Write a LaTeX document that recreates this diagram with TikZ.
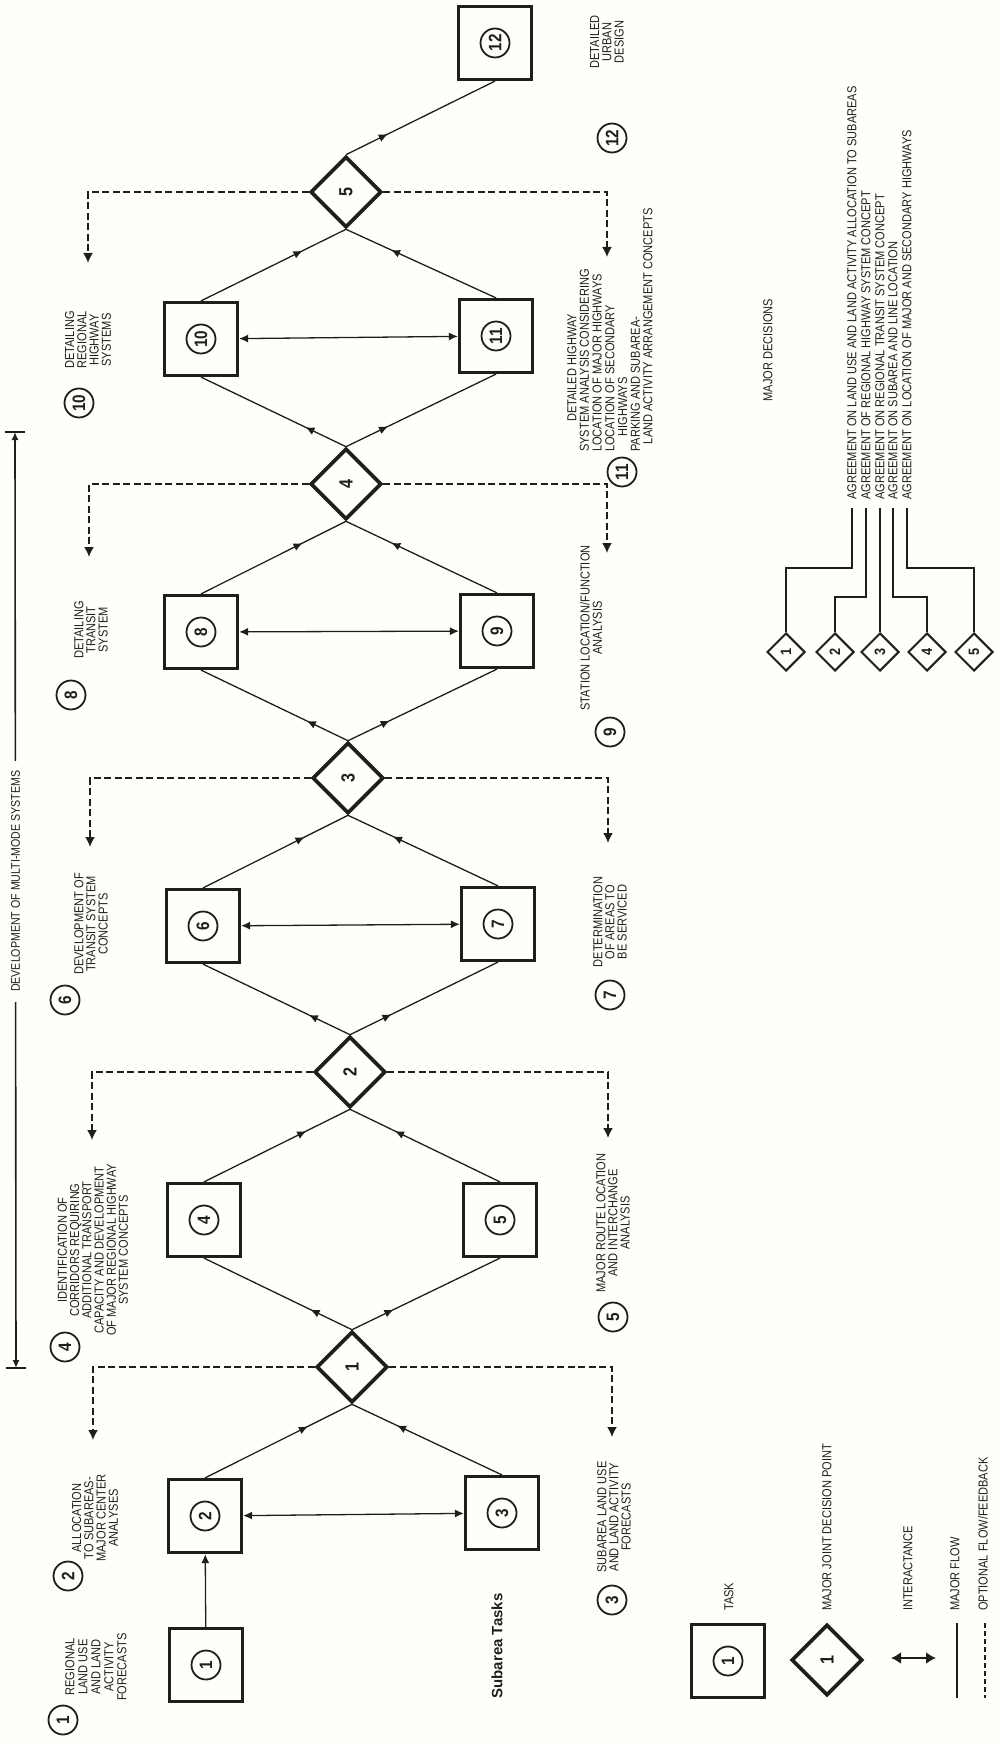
\documentclass[tikz,border=0pt]{standalone}
\usepackage{fontspec}
\setmainfont{Liberation Sans}
\newfontfamily\narrowfont[FakeStretch=0.85]{Liberation Sans}
\usetikzlibrary{arrows.meta, shapes.geometric, decorations.markings}
\definecolor{ink}{HTML}{1E1E1C}
\definecolor{paper}{HTML}{FFFFFA}
\newcommand{\lblfont}{\narrowfont\fontsize{13}{12.2}\selectfont}
\newcommand{\numfont}{\narrowfont\bfseries\fontsize{18}{18}\selectfont}
\newcommand{\decfont}{\narrowfont\bfseries\fontsize{19}{19}\selectfont}
\newcommand{\smallnumfont}{\narrowfont\bfseries\fontsize{15}{15}\selectfont}

\begin{document}
\begin{tikzpicture}[x=1pt, y=-1pt,
    task/.style={draw=ink, line width=3.2pt, minimum size=73pt, inner sep=0pt,
                 label={[tasknum]center:#1}},
    tasknum/.style={circle, draw=ink, line width=1.8pt, minimum size=29pt,
                    inner sep=0pt, rotate=90, font=\numfont, text=ink},
    decision/.style={diamond, draw=ink, line width=3.6pt, minimum size=71pt,
                     inner sep=0pt, label={[decnum]center:#1}},
    decnum/.style={rotate=90, font=\decfont, text=ink, inner sep=0pt},
    minidec/.style={diamond, draw=ink, line width=2pt, minimum size=38pt,
                    inner sep=0pt, label={[decnum, font=\smallnumfont]center:#1}},
    lbl/.style={rotate=90, align=center, font=\lblfont, text=ink, inner sep=0pt},
    flow/.style={draw=ink, line width=1.3pt},
    mid in/.style={postaction={decorate}, decoration={markings,
        mark=at position 0.7 with {\arrow{Latex[length=9pt,width=8pt]}}}},
    mid out/.style={postaction={decorate}, decoration={markings,
        mark=at position 0.28 with {\arrow{Latex[length=9pt,width=8pt]}}}},
    feedback/.style={draw=ink, line width=1.8pt, dash pattern=on 7pt off 3.5pt,
                     -{Latex[length=10pt,width=10pt]}},
    interact/.style={draw=ink, line width=1.3pt,
                     {Latex[length=9pt,width=8pt]}-{Latex[length=9pt,width=8pt]}}
  ]
    \path[fill=paper, use as bounding box] (0,0) rectangle (1000,1744);

    % span of the multi-mode work
    \coordinate (sTop) at (15,432);
    \coordinate (sBot) at (16,1368);
    \draw[ink, line width=1.6pt, {Latex[length=8pt,width=7pt]}-{Latex[length=8pt,width=7pt]}]
      (sTop) -- node[lbl, pos=0.48, fill=paper, inner xsep=10pt,
                     font=\narrowfont\fontsize{12.5}{13}\selectfont] (span)
                {DEVELOPMENT OF MULTI-MODE SYSTEMS} (sBot);
    \draw[ink, line width=1.6pt] ([xshift=-10pt]sTop) -- ([xshift=10pt]sTop);
    \draw[ink, line width=1.6pt] ([xshift=-10pt]sBot) -- ([xshift=10pt]sBot);

    % tasks, upper row
    \node[task=10] (t10) at (201,339) {};
    \node[task=8] (t8) at (201,632) {};
    \node[task=6] (t6) at (203,926) {};
    \node[task=4] (t4) at (204,1220) {};
    \node[task=2] (t2) at (205,1516) {};
    \node[task=1] (t1) at (206,1665) {};
    % tasks, lower row
    \node[task=12] (t12) at (495,43) {};
    \node[task=11] (t11) at (496,336) {};
    \node[task=9] (t9) at (497,631) {};
    \node[task=7] (t7) at (498,924) {};
    \node[task=5] (t5) at (500,1220) {};
    \node[task=3] (t3) at (502,1513) {};

    % joint decision points
    \node[decision=5] (d5) at (346,192) {};
    \node[decision=4] (d4) at (346,484) {};
    \node[decision=3] (d3) at (348,778) {};
    \node[decision=2] (d2) at (350,1072) {};
    \node[decision=1] (d1) at (352,1367) {};

    % major flow
    \draw[flow, -{Latex[length=9pt,width=8pt]}] (t1) -- (t2);
    \draw[flow, mid in] (t2.north) -- (d1.south);
    \draw[flow, mid in] (t3.north) -- (d1.south);
    \draw[flow, mid out] (d1.north) -- (t4.south);
    \draw[flow, mid out] (d1.north) -- (t5.south);
    \draw[flow, mid in] (t4.north) -- (d2.south);
    \draw[flow, mid in] (t5.north) -- (d2.south);
    \draw[flow, mid out] (d2.north) -- (t6.south);
    \draw[flow, mid out] (d2.north) -- (t7.south);
    \draw[flow, mid in] (t6.north) -- (d3.south);
    \draw[flow, mid in] (t7.north) -- (d3.south);
    \draw[flow, mid out] (d3.north) -- (t8.south);
    \draw[flow, mid out] (d3.north) -- (t9.south);
    \draw[flow, mid in] (t8.north) -- (d4.south);
    \draw[flow, mid in] (t9.north) -- (d4.south);
    \draw[flow, mid out] (d4.north) -- (t10.south);
    \draw[flow, mid out] (d4.north) -- (t11.south);
    \draw[flow, mid in] (t10.north) -- (d5.south);
    \draw[flow, mid in] (t11.north) -- (d5.south);
    \draw[flow, mid out] (d5.north) -- (t12.south);

    % interactance
    \draw[interact] (t2) -- (t3);
    \draw[interact] (t6) -- (t7);
    \draw[interact] (t8) -- (t9);
    \draw[interact] (t10) -- (t11);

    % optional flow / feedback
    \coordinate (f1l) at (93,1440);  \coordinate (f1r) at (612,1437);
    \coordinate (f2l) at (92,1140);  \coordinate (f2r) at (608,1138);
    \coordinate (f3l) at (90,847);   \coordinate (f3r) at (608,843);
    \coordinate (f4l) at (89,557);   \coordinate (f4r) at (607,553);
    \coordinate (f5l) at (88,263);   \coordinate (f5r) at (607,257);
    \draw[feedback] (d1.west) -| (f1l);
    \draw[feedback] (d1.east) -| (f1r);
    \draw[feedback] (d2.west) -| (f2l);
    \draw[feedback] (d2.east) -| (f2r);
    \draw[feedback] (d3.west) -| (f3l);
    \draw[feedback] (d3.east) -| (f3r);
    \draw[feedback] (d4.west) -| (f4l);
    \draw[feedback] (d4.east) -| (f4r);
    \draw[feedback] (d5.west) -| (f5l);
    \draw[feedback] (d5.east) -| (f5r);

    % task notes, upper row
    \node[tasknum] (n10) at (79,403) {10};
    \node[lbl] (l10) at (88,340) {DETAILING\\REGIONAL\\HIGHWAY\\SYSTEMS};
    \node[tasknum] (n8) at (71,695) {8};
    \node[lbl] (l8) at (91,630) {DETAILING\\TRANSIT\\SYSTEM};
    \node[tasknum] (n6) at (65,1000) {6};
    \node[lbl] (l6) at (91,924) {DEVELOPMENT OF\\TRANSIT SYSTEM\\CONCEPTS};
    \node[tasknum] (n4) at (65,1347) {4};
    \node[lbl] (l4) at (93,1250) {IDENTIFICATION OF\\CORRIDORS REQUIRING\\ADDITIONAL TRANSPORT\\CAPACITY AND DEVELOPMENT\\OF MAJOR REGIONAL HIGHWAY\\SYSTEM CONCEPTS};
    \node[tasknum] (n2) at (68,1576) {2};
    \node[lbl] (l2) at (95,1518) {ALLOCATION\\TO SUBAREAS-\\MAJOR CENTER\\ANALYSES};
    \node[tasknum] (n1) at (63,1720) {1};
    \node[lbl, font=\narrowfont\fontsize{13}{13}\selectfont] (l1) at (96,1667)
      {REGIONAL\\LAND USE\\AND LAND\\ACTIVITY\\FORECASTS};

    % task notes, lower row
    \node[lbl] (l12) at (607,42) {DETAILED\\URBAN\\DESIGN};
    \node[tasknum] (n12) at (612,138) {12};
    \node[tasknum] (n11) at (622,472) {11};
    \node[lbl, align=left, anchor=north west, font=\narrowfont\fontsize{13}{12.7}\selectfont]
      (l11) at (567,452) {\hspace*{2.3em}DETAILED HIGHWAY\\SYSTEM ANALYSIS CONSIDERING\\LOCATION OF MAJOR HIGHWAYS\\LOCATION OF SECONDARY\\\hspace*{1.2em}HIGHWAYS\\PARKING AND SUBAREA-\\\hspace*{0.6em}LAND ACTIVITY ARRANGEMENT CONCEPTS};
    \node[lbl] (l9) at (591,628) {STATION LOCATION/FUNCTION\\ANALYSIS};
    \node[tasknum] (n9) at (610,732) {9};
    \node[lbl] (l7) at (610,922) {DETERMINATION\\OF AREAS TO\\BE SERVICED};
    \node[tasknum] (n7) at (610,995) {7};
    \node[lbl] (l5) at (613,1223) {MAJOR ROUTE LOCATION\\AND INTERCHANGE\\ANALYSIS};
    \node[tasknum] (n5) at (613,1317) {5};
    \node[lbl] (l3) at (614,1517) {SUBAREA LAND USE\\AND LAND ACTIVITY\\FORECASTS};
    \node[tasknum] (n3) at (612,1600) {3};

    \node[rotate=90, font=\bfseries\fontsize{15}{15}\selectfont, text=ink, inner sep=0pt]
      (subt) at (497,1646) {Subarea Tasks};

    % major decisions
    \node[lbl] (mdTitle) at (768,350) {MAJOR DECISIONS};
    \node[minidec=1] (m1) at (786,652) {};
    \node[minidec=2] (m2) at (835,652) {};
    \node[minidec=3] (m3) at (880,652) {};
    \node[minidec=4] (m4) at (927,652) {};
    \node[minidec=5] (m5) at (974,652) {};
    \node[lbl, anchor=west] (a1) at (852,500) {AGREEMENT ON LAND USE AND LAND ACTIVITY ALLOCATION TO SUBAREAS};
    \node[lbl, anchor=west] (a2) at (866,500) {AGREEMENT OF REGIONAL HIGHWAY SYSTEM CONCEPT};
    \node[lbl, anchor=west] (a3) at (880,500) {AGREEMENT ON REGIONAL TRANSIT SYSTEM CONCEPT};
    \node[lbl, anchor=west] (a4) at (893,500) {AGREEMENT ON SUBAREA AND LINE LOCATION};
    \node[lbl, anchor=west] (a5) at (907,500) {AGREEMENT ON LOCATION OF MAJOR AND SECONDARY HIGHWAYS};
    \draw[flow] (m1.north) -- ++(0,-64) -| ([yshift=-8pt]a1.west);
    \draw[flow] (m2.north) -- ++(0,-35) -| ([yshift=-8pt]a2.west);
    \draw[flow] (m3.north) -- ([yshift=-8pt]a3.west);
    \draw[flow] (m4.north) -- ++(0,-35) -| ([yshift=-8pt]a4.west);
    \draw[flow] (m5.north) -- ++(0,-64) -| ([yshift=-8pt]a5.west);

    % legend
    \node[task=1] (lgTask) at (728,1661) {};
    \node[lbl, anchor=west] (lgTaskTxt) at (729,1611) {TASK};
    \node[decision=1] (lgDec) at (827,1660) {};
    \node[lbl, anchor=west] (lgDecTxt) at (827,1611) {MAJOR JOINT DECISION POINT};
    \coordinate (ia) at (891,1658);
    \coordinate (ib) at (936,1658);
    \draw[ink, line width=2.6pt, {Latex[length=10pt,width=12pt]}-{Latex[length=10pt,width=12pt]}] (ia) -- (ib);
    \node[lbl, anchor=west] (lgIntTxt) at (908,1611) {INTERACTANCE};
    \coordinate (mfa) at (957,1623);
    \coordinate (mfb) at (957,1698);
    \draw[flow] (mfa) -- (mfb);
    \node[lbl, anchor=west] (lgFlowTxt) at (955,1611) {MAJOR FLOW};
    \coordinate (ofa) at (985,1623);
    \coordinate (ofb) at (985,1698);
    \draw[ink, line width=1.6pt, dash pattern=on 5pt off 3pt] (ofa) -- (ofb);
    \node[lbl, anchor=west] (lgOptTxt) at (983,1611) {OPTIONAL FLOW/FEEDBACK};
\end{tikzpicture}
\end{document}
